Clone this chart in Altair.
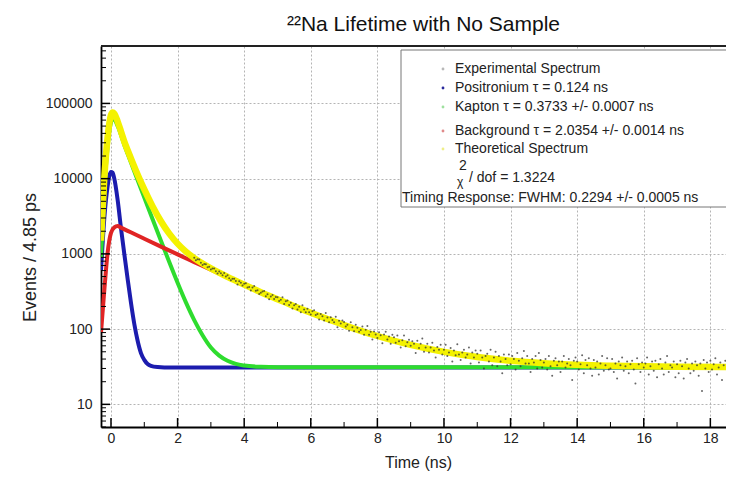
import altair as alt
import pandas as pd

TITLE = "²²Na Lifetime with No Sample"
X_TITLE = "Time (ns)"
Y_TITLE = "Events / 4.85 ps"
X_TICKS = [0, 2, 4, 6, 8, 10, 12, 14, 16, 18]
X_MINOR = [1, 3, 5, 7, 9, 11, 13, 15, 17]
Y_TICKS = [10, 100, 1000, 10000, 100000]

# Positronium component (blue)
BLUE_T = [-0.3, -0.2, -0.1, 0.0, 0.05, 0.1, 0.2, 0.3, 0.4, 0.5, 0.6, 0.7, 0.8, 0.9, 1.0, 1.1, 1.2, 1.4, 1.6, 18.7]
BLUE_V = [600, 3000, 8000, 12300, 12000, 10000, 5200, 2200, 1000, 464, 224, 117, 70, 48, 39, 34.4, 32.5, 31.3, 31, 31]

# Kapton component (green)
GREEN_T = [-0.3, -0.2, -0.1, 0.0, 0.05, 0.1, 0.2, 0.3, 0.4, 0.5, 0.75, 1.0, 1.25, 1.5, 1.75, 2.0, 2.25, 2.5, 2.75,
           3.0, 3.25, 3.5, 3.75, 4.0, 4.5, 5.0, 18.7]
GREEN_V = [900, 7000, 27000, 56000, 62000, 61000, 50000, 38000, 28000, 21400, 10950, 5620, 2890, 1495, 780, 414, 227,
           132, 83, 57, 44.5, 38, 34.5, 32.8, 31.5, 31.1, 31]

# Background component (red)
RED_T = [-0.3, -0.2, -0.1, 0.0, 0.1, 0.2, 0.3, 0.5, 0.75, 1.0, 1.5, 2.0, 2.5, 3.0, 3.5, 4.0, 4.5, 5.0, 5.5, 6.0, 6.5,
         7.0, 7.5, 8.0, 9.0, 10, 11, 12, 13, 14, 15, 16, 17, 18.7]
RED_V = [90, 330, 1050, 1900, 2250, 2340, 2232, 2026, 1795, 1591, 1251, 985, 778, 615, 488, 388, 310, 250, 202, 165, 136,
         113, 95, 81, 61.6, 49.8, 42.5, 38, 35.3, 33.6, 32.6, 32, 31.6, 31.3]

# Theoretical spectrum (yellow)
YELLOW_T = [-0.3, -0.2, -0.1, 0.0, 0.05, 0.1, 0.2, 0.3, 0.4, 0.5, 0.75, 1.0, 1.25, 1.5, 1.75, 2.0, 2.25, 2.5, 2.75, 3.0,
            3.5, 4.0, 4.5, 5.0, 5.5, 6.0, 6.5, 7.0, 7.5, 8.0, 9.0, 10, 11, 12, 13, 14, 15, 16, 17, 18.7]
YELLOW_V = [1500, 10300, 36000, 70100, 76000, 73200, 57500, 42400, 31100, 23830, 12770, 7190, 4270, 2715, 1859, 1368,
            1071, 879, 743, 641, 495, 390, 310, 250, 202, 165, 136, 113, 95, 81, 61.6, 49.8, 42.5, 38, 35.3, 33.6,
            32.6, 32, 31.6, 31.3]

# Experimental spectrum (bins from 2.50 ns, every 0.05 ns)
EXP_START = 2.5
EXP_STEP = 0.05
EXP_COUNTS = [
    887, 821, 847, 845, 764, 712, 733, 731, 665, 675,
    619, 640, 640, 588, 547, 584, 551, 522, 559, 501,
    520, 473, 445, 469, 469, 435, 392, 434, 415, 381,
    400, 408, 357, 362, 325, 358, 375, 324, 328, 294,
    305, 317, 322, 274, 291, 249, 272, 285, 251, 267,
    265, 236, 245, 265, 216, 234, 241, 210, 225, 188,
    207, 216, 183, 199, 167, 207, 182, 168, 187, 168,
    157, 173, 178, 154, 159, 134, 159, 148, 130, 164,
    143, 123, 144, 132, 123, 146, 106, 129, 119, 130,
    124, 108, 114, 95, 123, 106, 94, 114, 104, 92,
    97, 108, 84, 98, 110, 84, 92, 73, 93, 85,
    76, 91, 83, 65, 85, 92, 73, 80, 64, 84,
    78, 66, 82, 69, 57, 71, 82, 59, 67, 72,
    60, 69, 64, 48, 70, 56, 64, 75, 50, 57,
    64, 49, 57, 66, 52, 42, 58, 53, 62, 46,
    53, 62, 44, 49, 56, 37, 52, 45, 63, 46,
    39, 49, 53, 42, 46, 57, 35, 49, 42, 52,
    47, 36, 52, 42, 30, 44, 47, 37, 53, 33,
    42, 50, 32, 44, 37, 26, 46, 40, 33, 46,
    34, 44, 40, 29, 48, 38, 32, 41, 51, 35,
    44, 35, 27, 40, 36, 44, 30, 48, 39, 31,
    36, 40, 29, 44, 32, 24, 38, 41, 33, 37,
    27, 37, 44, 31, 35, 40, 33, 21, 38, 42,
    37, 29, 34, 45, 26, 39, 33, 41, 30, 24,
    39, 31, 37, 25, 35, 44, 28, 33, 41, 29,
    30, 40, 27, 35, 22, 37, 33, 42, 28, 32,
    37, 26, 34, 38, 29, 19, 41, 34, 27, 36,
    31, 35, 42, 25, 32, 37, 28, 38, 23, 34,
    40, 30, 25, 36, 44, 27, 33, 31, 37, 23,
    34, 26, 38, 32, 22, 36, 40, 30, 26, 35,
    28, 37, 33, 24, 35, 15, 39, 30, 36, 27,
    38, 29, 34, 41, 25, 31, 36, 21, 33, 38,
    30, 36, 26, 34, 39,
]

LEGEND_LABELS = ["Experimental Spectrum", "Positronium τ = 0.124 ns", "Kapton τ = 0.3733 +/- 0.0007 ns",
                 "Background τ = 2.0354 +/- 0.0014 ns", "Theoretical Spectrum"]
LEGEND_DOTS = ["#b8b8b8", "#2a2a9c", "#9ee09e", "#e08a8a", "#eeee88"]
CHI_TEXT = "/ dof = 1.3224"
TIMING_TEXT = "Timing Response: FWHM: 0.2294 +/- 0.0005 ns"

# ---------------- layout / style ----------------
W, H = 625, 381
FONT = "Liberation Sans"
LEG_Y = [23, 42, 61, 85, 103]

x_scale = alt.Scale(domain=[-0.3, 18.47], nice=False, zero=False)
y_scale = alt.Scale(type="log", domain=[5, 580000], nice=False)

x_axis = alt.Axis(values=X_TICKS, format="d", title=X_TITLE, grid=True, ticks=False, labelPadding=4,
                  titleX=317, titleY=35, titleBaseline="middle", titleAlign="center", titleFontSize=16)
y_axis = alt.Axis(values=Y_TICKS, format="d", title=Y_TITLE, grid=True, ticks=False, labelPadding=9,
                  titleX=-71, titleY=211, titleAngle=270, titleBaseline="middle", titleAlign="center",
                  titleFontSize=18)

X = lambda: alt.X("t:Q", scale=x_scale, axis=x_axis)
Y = lambda: alt.Y("v:Q", scale=y_scale, axis=y_axis)


def curve(ts, vs, color, width):
    df = pd.DataFrame({"t": ts, "v": vs})
    return alt.Chart(df).mark_line(color=color, strokeWidth=width, clip=True,
                                   interpolate="monotone").encode(x=X(), y=Y())


exp_df = pd.DataFrame({"t": [round(EXP_START + i * EXP_STEP, 2) for i in range(len(EXP_COUNTS))],
                       "v": EXP_COUNTS})

layers = []
layers.append(curve(BLUE_T, BLUE_V, "#1c1cae", 4))
layers.append(curve(GREEN_T, GREEN_V, "#2edc2e", 4))
layers.append(curve(RED_T, RED_V, "#e02424", 4))
layers.append(curve(YELLOW_T, YELLOW_V, "#f4f200", 6.5))
layers.append(alt.Chart(exp_df).mark_circle(size=4, color="#333333", opacity=0.75, clip=True).encode(x=X(), y=Y()))

# inner ticks
minor_y = [m * 10 ** k for k in range(0, 6) for m in range(2, 10) if 5 <= m * 10 ** k <= 580000]
layers.append(alt.Chart(pd.DataFrame({"v": minor_y})).mark_rule(color="#000", strokeWidth=1).encode(
    y=Y(), x=alt.value(0), x2=alt.value(5)))
layers.append(alt.Chart(pd.DataFrame({"v": Y_TICKS})).mark_rule(color="#000", strokeWidth=1.5).encode(
    y=Y(), x=alt.value(0), x2=alt.value(9)))
layers.append(alt.Chart(pd.DataFrame({"t": X_TICKS})).mark_rule(color="#000", strokeWidth=1.5).encode(
    x=X(), y=alt.value(H), y2=alt.value(H - 9)))
layers.append(alt.Chart(pd.DataFrame({"t": X_MINOR})).mark_rule(color="#000", strokeWidth=1).encode(
    x=X(), y=alt.value(H), y2=alt.value(H - 5)))

one = pd.DataFrame({"a": [0]})
# top frame line
layers.append(alt.Chart(one).mark_rule(color="#222", strokeWidth=2).encode(
    x=alt.value(0), x2=alt.value(W + 20), y=alt.value(0)))

# legend box
layers.append(alt.Chart(one).mark_rect(fill="white", stroke="#777", strokeWidth=1).encode(
    x=alt.value(300), x2=alt.value(W + 40), y=alt.value(4), y2=alt.value(161)))
for lab, col, yy in zip(LEGEND_LABELS, LEGEND_DOTS, LEG_Y):
    layers.append(alt.Chart(one).mark_circle(size=8, color=col, opacity=1).encode(
        x=alt.value(342), y=alt.value(yy)))
    layers.append(alt.Chart(one).mark_text(text=lab, align="left", baseline="middle", font=FONT, fontSize=14,
                                           color="#222").encode(x=alt.value(354), y=alt.value(yy)))
layers.append(alt.Chart(one).mark_text(text="χ", align="left", baseline="middle", font=FONT, fontSize=12,
                                       color="#222").encode(x=alt.value(356), y=alt.value(136)))
layers.append(alt.Chart(one).mark_text(text="2", align="left", baseline="middle", font=FONT, fontSize=14,
                                       color="#222").encode(x=alt.value(358), y=alt.value(120)))
layers.append(alt.Chart(one).mark_text(text=CHI_TEXT, align="left", baseline="middle", font=FONT, fontSize=14,
                                       color="#222").encode(x=alt.value(368), y=alt.value(132)))
layers.append(alt.Chart(one).mark_text(text=TIMING_TEXT, align="left", baseline="middle", font=FONT, fontSize=14,
                                       color="#222").encode(x=alt.value(301), y=alt.value(152)))

chart = alt.layer(*layers).properties(
    width=W, height=H,
    title=alt.TitleParams(TITLE, fontSize=21, font=FONT, fontWeight="normal", color="#111", anchor="middle",
                          dx=10, offset=10),
    autosize=alt.AutoSizeParams(type="none"),
    padding={"left": 93, "top": 38, "right": 0, "bottom": 44},
).configure_view(stroke=None).configure_axis(
    labelFont=FONT, labelFontSize=14, labelColor="#222", titleFont=FONT, titleFontWeight="normal",
    titleColor="#222", gridColor="#b4b4b4", gridDash=[2, 2], gridWidth=1, domainColor="#000", domainWidth=1.8,
)

chart.save("out.html", embed_options={"renderer": "svg", "actions": False})
